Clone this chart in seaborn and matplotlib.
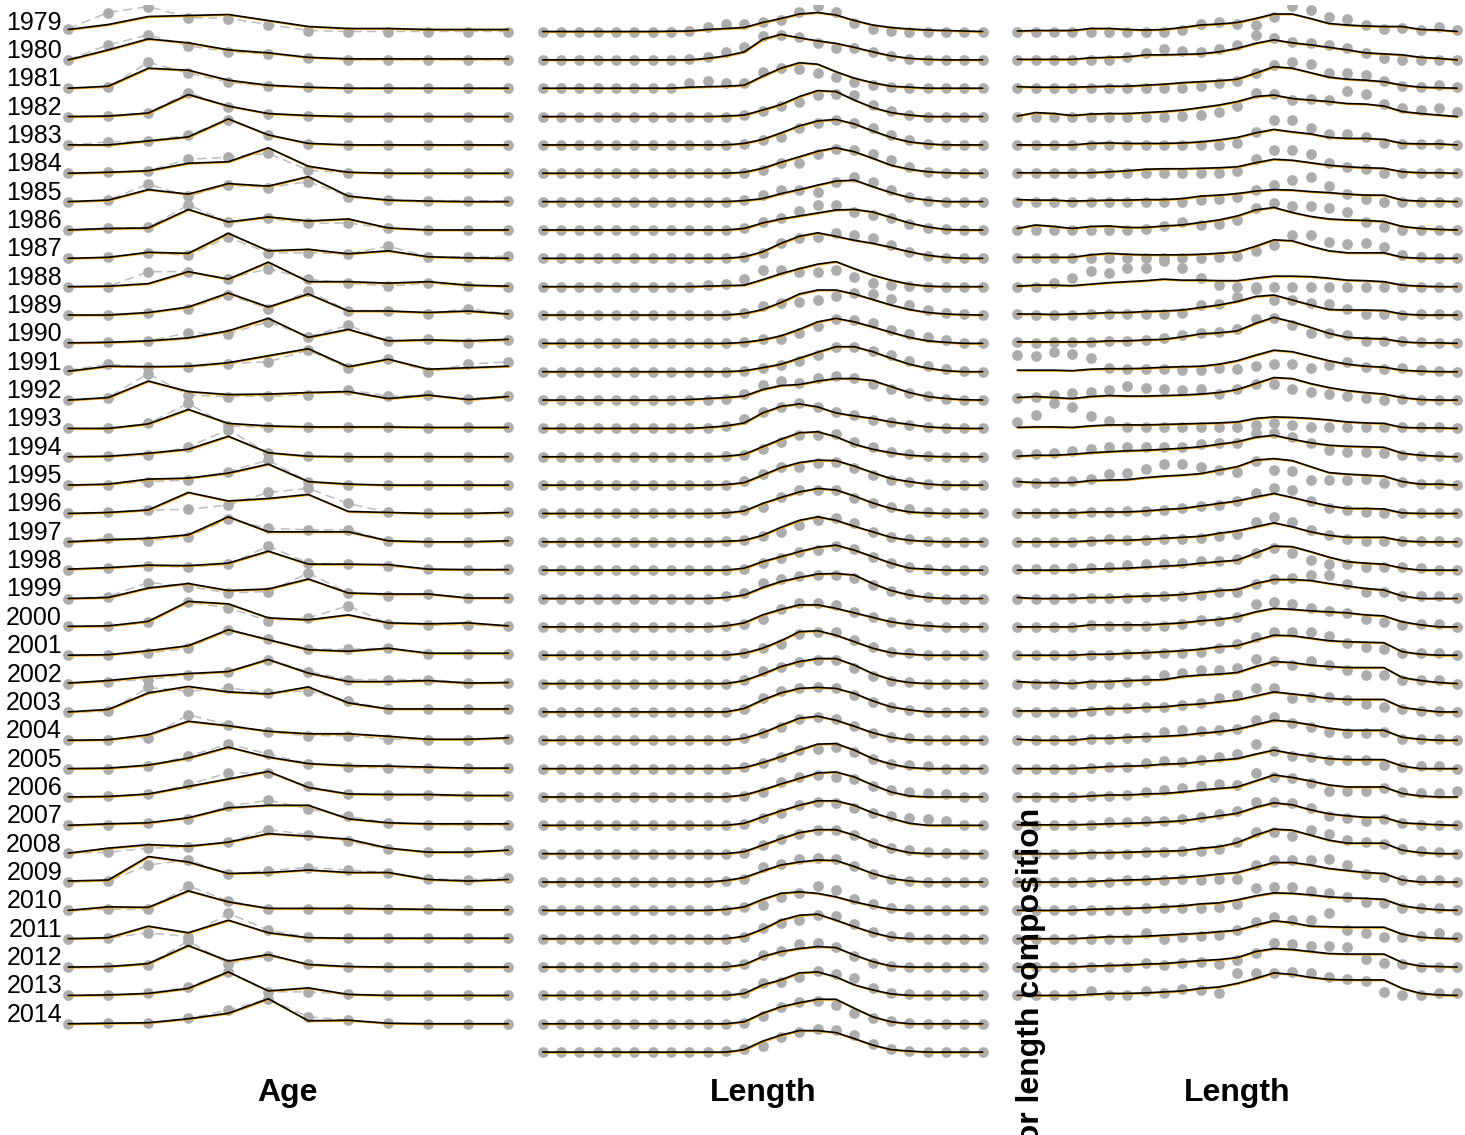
import numpy as np
import pandas as pd
import matplotlib
matplotlib.use("Agg")
import matplotlib.pyplot as plt
import matplotlib.transforms as mtransforms
import seaborn as sns

# ---------------- data (proportions, in percent) ----------------
AGE_YEARS = list(range(1979, 2015))
AGE_BINS = list(range(1, 13))
AGE_OBS = [
    [3, 19, 25, 14, 13, 7, 1, 0, 0, 0, 0, 0],
    [0, 15, 25, 14, 8, 6, 2, 0, 0, 0, 0, 0],
    [0, 1, 26, 15, 6, 2, 1, 0, 0, 0, 0, 0],
    [0, 0.5, 4, 24, 10, 3, 1, 0, 0, 0, 0, 0],
    [0, 3, 4, 10, 25, 10, 1, 0, 0, 0, 0, 0],
    [0, 1, 2.5, 14, 16, 20, 3, 0.5, 0, 0, 0, 0],
    [0, 1.5, 17.5, 5.5, 16.5, 14, 20, 5, 1.5, 1, 1, 0.5],
    [0, 2, 2.5, 25, 8, 11.5, 6.5, 7, 1.5, 0, 0, 0],
    [0, 1, 5.5, 3, 21, 5.5, 5.5, 4.5, 12, 1.5, 1.5, 2],
    [0, 0, 15, 15, 8, 18, 7.5, 3.5, 0.5, 3.5, 0.5, 0],
    [0, 0.5, 2.5, 6.5, 20, 6.5, 24, 4.5, 4.5, 1.5, 6.5, 1],
    [0, 1.5, 2.5, 10.5, 9.5, 21.5, 6.5, 18, 2.5, 4, 0.5, 3],
    [1.5, 7.5, 4.5, 5, 8, 10, 21.5, 3.5, 13, 0, 7.5, 10],
    [0, 2.5, 26.5, 5, 3.5, 4, 5, 10, 4, 5, 1.5, 4],
    [0, 0, 5, 25, 2.5, 1, 1, 1, 1, 0, 1, 1],
    [0, 0.5, 1.5, 10, 27, 3.5, 0.5, 0, 0, 0, 0, 0],
    [0, 0, 3.5, 5, 13.5, 25, 3.5, 0, 0, 0, 0, 0],
    [0, 1, 3.5, 4, 8.5, 21, 25, 10, 1, 0, 0, 1],
    [0, 4, 1, 5, 22.5, 13.5, 12, 12, 1, 0, 0, 1],
    [0.5, 2, 4, 3, 6, 24, 7, 6, 4, 1, 0.5, 1],
    [0, 2, 16, 12, 5.5, 7, 25.5, 5.5, 3, 4.5, 0.5, 0.5],
    [0.5, 0.5, 4.5, 24.5, 19, 6, 9, 21, 3, 2, 2, 0.5],
    [0, 0.5, 2, 7, 25.5, 16, 6, 6, 7, 1.5, 1, 1.5],
    [0, 2, 4, 9, 12, 24, 12, 4, 4, 4, 1, 1],
    [0, 0.5, 24.5, 20.5, 24, 19, 21, 11, 2.5, 2.5, 2.5, 2.5],
    [0, 0.5, 2.5, 25.5, 15.5, 8, 4.5, 4.5, 1, 0.5, 0.5, 1],
    [0, 0, 2.5, 12.5, 24.5, 14.5, 5, 1.5, 0.5, 0.5, 0.5, 0.5],
    [0, 0.5, 2.5, 12.5, 24, 24, 10.5, 3, 1.5, 1.5, 0.5, 0.5],
    [0, 0.5, 2.5, 6.5, 19, 25, 16.5, 9, 2.5, 0.5, 0.5, 0.5],
    [0.5, 1.5, 5.5, 6.5, 11.5, 24, 19, 12.5, 4.5, 1.5, 1.5, 3.5],
    [0, 1, 17, 22, 8, 11.5, 14.5, 12, 9.5, 3.5, 2, 4.5],
    [0, 1, 1, 24.5, 9.5, 1, 1, 1, 1, 1, 0.5, 0.5],
    [0, 0.5, 6, 2, 25.5, 8.5, 1.5, 0.5, 0.5, 0.5, 0.5, 0.5],
    [0, 0.5, 2.5, 26, 3.5, 11, 3.5, 0.5, 0, 0, 0, 0],
    [0, 0.5, 2, 8.5, 23.5, 3.5, 3.5, 1, 0, 0, 0, 0],
    [0, 1, 1, 5.5, 13.5, 25, 7, 3.5, 0.5, 0, 0, 0],
]
AGE_FIT = [
    [2, 7, 15, 16, 17, 11, 5, 3, 3, 2, 2, 2],
    [0, 10, 21, 17, 10, 7, 2.5, 1, 1, 1, 1, 1],
    [0, 2, 20, 18, 8, 3, 1, 0, 0, 0, 0, 0],
    [0, 0.5, 3.5, 22, 10.5, 3, 1, 0, 0, 0, 0, 0],
    [0, 0, 4, 8, 26, 10, 1.5, 0, 0, 0, 0, 0],
    [0, 1, 2.5, 10, 11.5, 25.5, 7, 1, 0, 0, 0, 0],
    [0, 1.5, 12, 7.5, 18, 15.5, 25, 5.5, 1.5, 0.5, 0, 0],
    [0, 1.5, 2, 20.5, 8, 13, 9, 11, 2, 0, 0, 0],
    [0, 1, 6, 5, 25, 7.5, 9, 4.5, 7.5, 1.5, 0.5, 0],
    [0, 0.5, 3, 15, 7.5, 24.5, 5, 5, 3.5, 5, 1.5, 0.5],
    [0, 0, 2.5, 8, 22, 8, 21, 4, 4, 2.5, 4, 1],
    [0.5, 1, 2.5, 5.5, 12.5, 25, 6, 14, 2.5, 3.5, 2.5, 4],
    [0.5, 5.5, 5, 5.5, 9, 16, 23, 5, 12.5, 2.5, 4, 5.5],
    [0, 2.5, 19, 8.5, 5.5, 6, 7.5, 8.5, 1.5, 5, 0.5, 3.5],
    [0, 0, 4.5, 19, 5, 2.5, 1.5, 1.5, 1.5, 1, 1, 1],
    [0, 0.5, 3.5, 7.5, 20.5, 4, 0.5, 0, 0, 0, 0, 0],
    [0, 1, 6, 7, 12, 21, 3.5, 1, 0, 0, 0, 0],
    [0, 1, 3.5, 21, 12.5, 15, 19, 2, 1, 0, 0, 1],
    [0, 2, 3.5, 7, 25, 10, 10, 10, 1, 0, 0, 1],
    [1, 2.5, 5, 4.5, 7, 19, 6, 6, 5.5, 1, 0.5, 0.5],
    [0, 1, 10.5, 15, 8, 9.5, 19.5, 5.5, 4.5, 4.5, 0.5, 0.5],
    [0.5, 1, 5.5, 25.5, 23, 9, 7, 12, 4, 3, 4, 1],
    [0, 0.5, 4.5, 9.5, 25.5, 15.5, 5.5, 4, 7, 2, 2, 2],
    [0.5, 3, 7, 10, 12, 24, 10.5, 2, 2, 3, 0.5, 1],
    [0, 2.5, 19, 25.5, 20, 18, 25, 9, 3, 3, 3, 3],
    [0, 0.5, 5.5, 19, 14.5, 9, 6.5, 6.5, 4, 1, 1, 2.5],
    [0, 0.5, 3.5, 10.5, 21.5, 11.5, 5, 3, 2.5, 1.5, 0.5, 0.5],
    [0, 0.5, 3, 10.5, 18, 25.5, 9.5, 3, 2.5, 2.5, 1.5, 1.5],
    [0, 1.5, 2.5, 7.5, 17.5, 20, 20, 6.5, 2.5, 1.5, 1.5, 1.5],
    [0.5, 5.5, 9, 7.5, 11.5, 20, 17.5, 14.5, 5.5, 1.5, 1.5, 3.5],
    [1, 2, 25.5, 20, 8.5, 9.5, 12, 9.5, 9.5, 2.5, 1, 2.5],
    [0, 3.5, 3, 19.5, 8.5, 2, 2, 2, 1.5, 1, 0.5, 0.5],
    [0, 1, 12.5, 6, 18.5, 6, 1, 0.5, 0.5, 0.5, 0.5, 0.5],
    [0, 0.5, 3.5, 21.5, 6, 12.5, 2.5, 0.5, 0, 0, 0, 0],
    [0, 0.5, 2, 7, 23.5, 4.5, 7.5, 1, 0, 0, 0, 0],
    [0, 0.5, 1, 5, 10.5, 25, 3, 3.5, 0.5, 0, 0, 0],
]

LEN_BINS = list(range(1, 26))
LEN1_YEARS = list(range(1979, 2016))
LEN1_OBS = [
    [0, 0, 0, 0, 0, 0, 0, 0, 0.5, 5, 7.5, 7.5, 10, 12, 20, 25.5, 20, 9, 3, 0.5, 0, 0, 0, 0, 0],
    [0, 0, 0, 0, 0, 0, 0, 0, 0.5, 2.5, 8, 13, 24, 25, 22.5, 17, 11.5, 11.5, 8, 4, 0.5, 0, 0, 0, 0],
    [0, 0, 0, 0, 0, 0, 0, 0, 5, 7.5, 5, 5.5, 16.5, 20, 19, 15.5, 11, 6.5, 3, 1, 0, 0, 0, 0, 0],
    [0, 0, 0, 0, 0, 0, 0, 0, 0, 0, 0, 1.5, 5.5, 10.5, 15, 21.5, 23, 21.5, 11.5, 6, 1.5, 0, 0, 0, 0],
    [0, 0, 0, 0, 0, 0, 0, 0, 0, 0, 0, 1, 5, 8, 16.5, 22, 25, 22, 16.5, 10, 5, 1, 0, 0, 0],
    [0, 0, 0, 0, 0, 0, 0, 0, 0, 0, 0, 0.5, 3, 10, 10, 19, 24, 23, 19, 13, 6.5, 1.5, 0, 0, 0],
    [0, 0, 0, 0, 0, 0, 0, 0, 0, 0, 0, 1.5, 6.5, 11.5, 11.5, 10, 20, 25, 20, 12, 5, 0.5, 0, 0, 0],
    [0, 0, 0, 0, 0, 0, 0, 0, 0, 0, 0, 1.5, 8, 11.5, 19, 25, 25, 18, 15, 11.5, 6, 1.5, 0.5, 0, 0],
    [0, 0, 0, 0, 0, 0, 0, 0, 0, 0, 0, 1.5, 5.5, 15, 20, 21.5, 25, 23, 20, 13.5, 6.5, 2, 0.5, 0, 0],
    [0, 0, 0, 0, 0, 0, 0, 0, 0, 1.5, 3, 8, 17, 17, 15, 15, 17, 10, 4, 1.5, 0.5, 0, 0, 0, 0],
    [0, 0, 0, 0, 0, 0, 0, 0, 0, 0, 0, 2.5, 9, 12.5, 13.5, 15.5, 19, 22, 21, 16.5, 10, 5.5, 2.5, 1, 0],
    [0, 0, 0, 0, 0, 0, 0, 0, 0, 0, 0, 1.5, 4, 4, 10, 17.5, 24, 23.5, 20, 13.5, 9.5, 6, 3.5, 0.5, 0],
    [0, 0, 0, 0, 0, 0, 0, 0, 0, 0, 0, 1, 3.5, 6.5, 11, 16.5, 25, 24.5, 20.5, 16.5, 11, 5.5, 2.5, 0.5, 0],
    [0, 0, 0, 0, 0, 0, 0, 0, 0.5, 0.5, 1.5, 6, 15, 19.5, 17.5, 22.5, 24, 22.5, 16.5, 11.5, 7.5, 4, 1.5, 0.5, 0],
    [0, 0, 0, 0, 0, 0, 0, 0, 0, 0.5, 2.5, 9, 16.5, 21.5, 25, 21.5, 16.5, 13.5, 8.5, 6.5, 3.5, 1.5, 0.5, 0, 0],
    [0, 0, 0, 0, 0, 0, 0, 0, 0, 0, 0.5, 1.5, 8, 15, 21.5, 21.5, 22.5, 15, 10, 5, 2.5, 1, 0, 0, 0],
    [0, 0, 0, 0, 0, 0, 0, 0, 0, 0, 0.5, 4.5, 11, 18.5, 18.5, 22, 23.5, 17, 10, 5.5, 3.5, 1.5, 0.5, 0, 0],
    [0, 0, 0, 0, 0, 0, 0, 0, 0, 0, 0.5, 3.5, 6.5, 16, 23.5, 23.5, 23.5, 15, 10, 6.5, 4, 1.5, 0.5, 0, 0],
    [0, 0, 0, 0, 0, 0, 0, 0, 0, 0, 0.5, 1.5, 5.5, 10, 16.5, 21.5, 23.5, 18.5, 10, 4.5, 2.5, 0.5, 0, 0, 0],
    [0, 0, 0, 0, 0, 0, 0, 0, 0, 0, 0, 1, 7, 12, 18.5, 20, 24, 21, 13.5, 7, 3, 1, 0, 0, 0],
    [0, 0, 0, 0, 0, 0, 0, 0, 0, 0, 2.5, 6, 16, 20, 22.5, 23.5, 23.5, 21, 13.5, 8, 4.5, 2, 0, 0, 0],
    [0, 0, 0, 0, 0, 0, 0, 0, 0, 0, 1, 3, 7.5, 17.5, 23.5, 24, 22, 15, 10, 5, 3, 1, 0, 0, 0],
    [0, 0, 0, 0, 0, 0, 0, 0, 0, 0, 0, 2, 7, 11, 21, 23.5, 23.5, 15, 8, 3.5, 2, 0, 0, 0, 0],
    [0, 0, 0, 0, 0, 0, 0, 0, 0, 0, 0, 4, 13, 17, 22, 23.5, 23.5, 16, 7.5, 3, 2, 0, 0, 0, 0],
    [0, 0, 0, 0, 0, 0, 0, 0, 0, 0, 0, 2.5, 13.5, 21, 23.5, 24.5, 23.5, 17, 10, 5, 2, 0, 0, 0, 0],
    [0, 0, 0, 0, 0, 0, 0, 0, 0, 0, 0, 2, 7, 13.5, 21, 23.5, 21, 14, 7, 3.5, 2, 0, 0, 0, 0],
    [0, 0, 0, 0, 0, 0, 0, 0, 0, 0, 0, 2, 6, 12, 18.5, 20, 22, 17, 10, 5, 3.5, 2.5, 0, 0, 0],
    [0, 0, 0, 0, 0, 0, 0, 0, 0, 0, 0, 1, 5, 15, 20, 22, 20, 17.5, 11, 7, 5, 4, 3, 0, 0],
    [0, 0, 0, 0, 0, 0, 0, 0, 0, 0, 0, 1, 7, 12, 20, 23.5, 22.5, 17, 12, 9, 7, 6, 4.5, 0, 0],
    [0, 0, 0, 0, 0, 0, 0, 0, 0, 0, 0, 1, 8.5, 15, 20, 23.5, 23.5, 18.5, 11, 6, 4, 2, 1, 0, 0],
    [0, 0, 0, 0, 0, 0, 0, 0, 0, 0, 1.5, 3.5, 15, 18.5, 23.5, 24.5, 23.5, 16, 8.5, 3.5, 1.5, 0, 0, 0, 0],
    [0, 0, 0, 0, 0, 0, 0, 0, 0, 0, 0.5, 3.5, 5.5, 13.5, 17.5, 24.5, 20, 11, 6.5, 2, 1, 0, 0, 0, 0],
    [0, 0, 0, 0, 0, 0, 0, 0, 0, 0, 0, 2, 11, 16, 18.5, 23.5, 22.5, 14.5, 7, 2.5, 1.5, 0, 0, 0, 0],
    [0, 0, 0, 0, 0, 0, 0, 0, 0, 0, 1, 3.5, 12, 16.5, 23.5, 24.5, 20.5, 11, 4.5, 1, 0, 0, 0, 0, 0],
    [0, 0, 0, 0, 0, 0, 0, 0, 0, 0, 0, 2, 12, 13.5, 18.5, 24.5, 21.5, 17, 7, 2.5, 1.5, 0, 0, 0, 0],
    [0, 0, 0, 0, 0, 0, 0, 0, 0, 0, 0, 1, 7.5, 17, 22, 23, 18.5, 11, 5.5, 3, 1, 0, 0, 0, 0],
    [0, 0, 0, 0, 0, 0, 0, 0, 0, 0, 1, 3.5, 6, 15.5, 20.5, 23.5, 22, 17, 8.5, 3.5, 1.5, 0, 0, 0, 0],
]
LEN1_FIT = [
    [0, 0, 0, 0, 0, 0, 0, 0.3, 0.5, 2, 3, 4, 9, 13, 17.5, 19, 16.5, 11, 6.5, 4, 2.5, 1.5, 1, 0.5, 0],
    [0, 0, 0, 0, 0, 0, 0, 0, 0, 1.5, 4, 8, 20.5, 25.5, 22, 19, 16.5, 12.5, 8, 4, 1.5, 0.5, 0, 0, 0],
    [0, 0, 0, 0, 0, 0, 0, 0, 1, 1.5, 2, 3, 12, 20, 25.5, 24, 16.5, 10, 5.5, 2, 1, 0, 0, 0, 0],
    [0, 0, 0, 0, 0, 0, 0, 0, 0, 0, 0.5, 1.5, 6.5, 12, 20, 26, 25, 16.5, 9, 4, 1.5, 0, 0, 0, 0],
    [0, 0, 0, 0, 0, 0, 0, 0, 0, 0, 0, 1.5, 5.5, 12, 19, 24, 25.5, 21, 14, 7.5, 3, 1, 0, 0, 0],
    [0, 0, 0, 0, 0, 0, 0, 0, 0, 0, 0, 1, 5, 11, 16.5, 22, 25.5, 21.5, 15, 8, 4, 1.5, 0.5, 0, 0],
    [0, 0, 0, 0, 0, 0, 0, 0, 0, 0, 0, 1, 3, 8, 12, 16.5, 20.5, 21.5, 15, 9, 4, 1.5, 0, 0, 0],
    [0, 0, 0, 0, 0, 0, 0, 0, 0, 0, 0, 1.5, 7, 11, 14, 17, 20, 20.5, 18, 12.5, 7, 3, 0.5, 0, 0],
    [0, 0, 0, 0, 0, 0, 0, 0, 0, 0, 0, 1.5, 6.5, 15, 22, 25.5, 22, 18, 15, 11, 6.5, 3, 1, 0, 0],
    [0, 0, 0, 0, 0, 0, 0, 0, 0, 0.5, 1, 1.5, 7, 13, 18, 22.5, 25, 18, 11.5, 6.5, 2.5, 0.5, 0, 0, 0],
    [0, 0, 0, 0, 0, 0, 0, 0, 0, 0, 0, 1.5, 5.5, 12.5, 21, 25, 25, 21, 15.5, 10, 5.5, 2.5, 1, 0.3, 0],
    [0, 0, 0, 0, 0, 0, 0, 0, 0, 0, 0, 1, 3.5, 7.5, 14, 21.5, 25, 21.5, 16.5, 11, 6, 2.5, 1, 0, 0],
    [0, 0, 0, 0, 0, 0, 0, 0, 0, 0, 0, 1, 4, 7.5, 13.5, 19.5, 25, 25, 20, 13.5, 7.5, 3.5, 1, 0, 0],
    [0, 0, 0, 0, 0, 0, 0, 0, 0.5, 1.5, 2.5, 4, 10.5, 14.5, 15.5, 19, 21.5, 21.5, 19.5, 13.5, 7.5, 3.5, 1.5, 0.3, 0],
    [0, 0, 0, 0, 0, 0, 0, 0, 0, 1, 2.5, 5.5, 15.5, 22, 24.5, 21.5, 15.5, 12.5, 10, 6.5, 4, 1.5, 0.5, 0, 0],
    [0, 0, 0, 0, 0, 0, 0, 0, 0, 0, 0.5, 2.5, 10, 17.5, 24, 25, 20, 12.5, 7.5, 4, 1.5, 0.5, 0, 0, 0],
    [0, 0, 0, 0, 0, 0, 0, 0, 0, 0, 0.5, 2.5, 10, 17.5, 22.5, 25, 24.5, 19, 12.5, 6.5, 3.5, 1, 0, 0, 0],
    [0, 0, 0, 0, 0, 0, 0, 0, 0, 0, 0.5, 2.5, 10, 16, 21.5, 25, 23.5, 17.5, 10.5, 5, 1.5, 0.5, 0, 0, 0],
    [0, 0, 0, 0, 0, 0, 0, 0, 0, 0, 0.5, 1.5, 6.5, 14.5, 21.5, 25, 21.5, 15.5, 10, 4.5, 1.5, 0.5, 0, 0, 0],
    [0, 0, 0, 0, 0, 0, 0, 0, 0, 0, 0, 2, 8.5, 13.5, 18.5, 23, 25, 20, 13.5, 7, 2, 1, 0, 0, 0],
    [0, 0, 0, 0, 0, 0, 0, 0, 0, 0, 1, 3.5, 11, 17, 21, 24.5, 25, 23.5, 15, 8, 3.5, 1, 0, 0, 0],
    [0, 0, 0, 0, 0, 0, 0, 0, 0, 0, 1, 4, 12, 17.5, 22, 22, 18.5, 14, 9.5, 5, 2.5, 1, 0, 0, 0],
    [0, 0, 0, 0, 0, 0, 0, 0, 0, 0, 0, 2, 7, 14.5, 23.5, 24.5, 20, 13.5, 7, 2.5, 1, 0, 0, 0, 0],
    [0, 0, 0, 0, 0, 0, 0, 0, 0, 0, 0, 3, 9.5, 17, 22, 25, 25, 18.5, 10, 4, 1, 0, 0, 0, 0],
    [0, 0, 0, 0, 0, 0, 0, 0, 0, 0, 0, 3.5, 12, 19, 23.5, 24.5, 23.5, 18.5, 11, 5, 2, 0, 0, 0, 0],
    [0, 0, 0, 0, 0, 0, 0, 0, 0, 0, 0, 2, 7.5, 15, 22, 24, 20, 14, 7.5, 3, 0.5, 0, 0, 0, 0],
    [0, 0, 0, 0, 0, 0, 0, 0, 0, 0, 0, 1, 6, 12, 18.5, 24.5, 25, 18.5, 10, 4.5, 1, 0, 0, 0, 0],
    [0, 0, 0, 0, 0, 0, 0, 0, 0, 0, 0, 2, 7, 13, 18.5, 24, 25, 20, 12, 5, 1, 0, 0, 0, 0],
    [0, 0, 0, 0, 0, 0, 0, 0, 0, 0, 0, 2, 8.5, 14.5, 20, 24.5, 24.5, 20, 12.5, 7, 2, 0, 0, 0, 0],
    [0, 0, 0, 0, 0, 0, 0, 0, 0, 0, 0, 2, 8.5, 15, 21, 24, 24, 18.5, 11, 5, 1, 0, 0, 0, 0],
    [0, 0, 0, 0, 0, 0, 0, 0, 0, 0, 1.5, 4.5, 11, 17, 20, 22, 21.5, 15.5, 8.5, 3.5, 1, 0, 0, 0, 0],
    [0, 0, 0, 0, 0, 0, 0, 0, 0, 0, 1, 3.5, 11, 17, 18.5, 17, 13.5, 8.5, 4.5, 1, 0, 0, 0, 0, 0],
    [0, 0, 0, 0, 0, 0, 0, 0, 0, 0, 0, 2.5, 9.5, 18.5, 23.5, 24.5, 18.5, 12, 6, 1.5, 0, 0, 0, 0, 0],
    [0, 0, 0, 0, 0, 0, 0, 0, 0, 0, 0, 2.5, 10.5, 15.5, 18.5, 20.5, 19.5, 12, 5.5, 1, 0, 0, 0, 0, 0],
    [0, 0, 0, 0, 0, 0, 0, 0, 0, 0, 0, 2, 10.5, 15.5, 22.5, 23.5, 18.5, 10.5, 5.5, 1.5, 0, 0, 0, 0, 0],
    [0, 0, 0, 0, 0, 0, 0, 0, 0, 0, 0, 2, 10.5, 17, 21, 24.5, 24.5, 15.5, 7, 2, 0, 0, 0, 0, 0],
    [0, 0, 0, 0, 0, 0, 0, 0, 0, 0, 0, 2.5, 11, 17, 21.5, 21.5, 19.5, 13.5, 7, 2.5, 1, 0, 0, 0, 0],
]

LEN2_YEARS = list(range(1979, 2014))
LEN2_OBS = [
    [0, 0, 0, 0, 0, 0, 0, 0, 0, 1.5, 7.5, 10, 8, 6.5, 15, 25.5, 21.5, 15, 13, 6.5, 3, 4, 2, 5, 2],
    [0, 0, 0, 0, 0, 0, 2.5, 6.5, 10.5, 9, 8, 10.5, 15, 25, 21.5, 18, 16.5, 15, 11.5, 6.5, 1.5, 0, 0, 0, 0],
    [0, 0, 0, 0, 0, 0, 0, 0, 0, 0, 2, 5.5, 7.5, 15.5, 23, 26.5, 24, 15.5, 15, 13, 7.5, 2, 1, 3, 1],
    [0, 0, 0, 0, 0, 0, 0, 0, 0, 0.5, 1.5, 5, 10.5, 24, 23, 16.5, 18, 17, 26, 23, 12.5, 9, 6.5, 9, 5],
    [0, 0, 0, 0, 0, 0, 0, 0, 0, 0, 0, 0, 1.5, 13, 25, 25, 16.5, 11, 11, 7.5, 2, 1, 1, 1, 0],
    [0, 0, 0, 0, 0, 0, 0, 0, 0, 0, 0, 0, 2.5, 14, 23, 23, 19, 10, 6, 4, 0.5, 0, 0, 0, 0],
    [0, 0, 0, 0, 0, 0, 0, 0, 0, 0, 1.5, 3, 5, 12, 16.5, 21.5, 25, 15.5, 8, 3, 0, 0, 0, 0, 0],
    [0, 0, 0, 0, 0, 0, 0, 0.5, 4, 7.5, 5, 6, 9.5, 21.5, 26.5, 24, 24, 21.5, 17.5, 7.5, 3, 0, 0, 0, 0],
    [0, 0, 0, 0, 0, 0, 0, 0, 0, 0, 0, 1, 2, 7.5, 13, 23, 23, 16.5, 14, 15.5, 11.5, 3, 1, 0, 0],
    [0, 0, 3.5, 8.5, 16, 13.5, 18.5, 18.5, 26, 18.5, 8.5, 1.5, 0, 0, 0, 0, 0, 0, 0, 0, 0, 0, 0, 0, 0],
    [1, 0, 0, 0, 1, 1, 1, 1, 1.5, 2.5, 10, 11.5, 18.5, 26.5, 15, 15, 12.5, 11.5, 6.5, 1.5, 1, 0, 1, 1, 0],
    [1.5, 0.5, 1.5, 1.5, 1.5, 2.5, 2.5, 3.5, 5, 8.5, 10.5, 11.5, 14, 24, 25, 18.5, 10.5, 10, 8.5, 2.5, 2.5, 2.5, 1.5, 0.5, 0],
    [16.5, 15.5, 20, 17.5, 13.5, 3.5, 2.5, 2.5, 2.5, 1.5, 1.5, 3.5, 2.5, 5.5, 7.5, 7.5, 3.5, 6.5, 10, 4.5, 2.5, 3.5, 1.5, 1, 0],
    [2.5, 3.5, 5, 7.5, 8.5, 10, 14, 12.5, 11.5, 10.5, 11.5, 6.5, 11.5, 16.5, 16.5, 11.5, 8.5, 6.5, 4, 2.5, 0, 1.5, 0.5, 0.5, 0],
    [6.5, 13.5, 25, 21, 12.5, 7.5, 1.5, 1.5, 1.5, 1.5, 1.5, 1.5, 1.5, 3.5, 5, 3.5, 1.5, 1, 1.5, 1.5, 1.5, 1, 1, 1.5, 0],
    [2.5, 2.5, 3.5, 6, 7.5, 9.5, 10, 10, 10, 10, 12.5, 13.5, 14, 24, 23.5, 20, 13.5, 6.5, 5, 5, 3.5, 1.5, 0.5, 0.5, 0],
    [3.5, 2.5, 3.5, 4.5, 6.5, 11, 12.5, 16.5, 21, 21, 18.5, 15, 13.5, 24, 15, 14.5, 5.5, 5.5, 5.5, 6.5, 2.5, 3.5, 1.5, 1.5, 0],
    [0.5, 0.5, 0.5, 0.5, 1.5, 1.5, 2.5, 2.5, 3.5, 5, 7.5, 8.5, 12.5, 20, 25, 23.5, 12.5, 5, 3.5, 1.5, 0.5, 0.5, 0.5, 0.5, 0],
    [0, 0, 0, 0, 1, 2.5, 1.5, 1.5, 2.5, 2.5, 3.5, 5.5, 7.5, 20, 25, 20, 11.5, 6.5, 2.5, 1, 1, 1, 1, 1, 0],
    [1, 1, 1, 2, 2, 3, 5, 6, 6, 7.5, 9.5, 9.5, 11.5, 17, 22, 17.5, 10, 6, 6, 3.5, 3.5, 3.5, 2, 0, 0],
    [0, 0, 0, 1, 1, 1, 1, 2, 2.5, 2.5, 3.5, 7, 7, 15, 20, 21, 23.5, 23.5, 15, 7, 7, 2.5, 2.5, 2.5, 1],
    [0, 0, 0, 0, 2, 1, 1, 1, 1, 3, 7, 6, 9.5, 23, 25, 23, 18.5, 16, 14, 7.5, 5, 2, 3, 3, 0],
    [0, 0, 0, 0, 0, 0, 1, 1, 2, 2.5, 3.5, 7, 11, 18.5, 23.5, 23.5, 23.5, 19, 12, 8.5, 6, 2.5, 2, 2, 0],
    [0, 0, 0, 0, 0, 0, 2, 4, 8.5, 11, 13.5, 14, 16, 25, 23, 18.5, 23, 18.5, 13.5, 8.5, 8.5, 4, 4, 4, 0],
    [0, 0, 0, 0, 1, 2, 3.5, 5, 5, 7, 8.5, 13.5, 17, 23.5, 23.5, 13.5, 15, 15, 12, 8, 4.5, 2.5, 1, 1, 0],
    [0, 0, 0, 0, 1, 1, 2, 3.5, 8.5, 10, 9.5, 10, 11, 20, 23.5, 17.5, 13.5, 8.5, 7.5, 7.5, 8.5, 1, 1, 1, 0],
    [0, 0, 0, 0, 1, 2, 2, 6, 8, 7, 9, 12, 15, 24.5, 18, 12.5, 12, 8.5, 8.5, 8.5, 3.5, 2, 2.5, 2.5, 0],
    [0, 0, 0, 0, 1, 1, 2, 5, 7, 8.5, 11, 12.5, 12, 23.5, 20, 18.5, 14, 6, 6, 6, 8.5, 5, 4, 3.5, 6],
    [0, 0, 0, 0, 0, 3.5, 3.5, 4.5, 4.5, 6, 8, 11, 14.5, 23.5, 23.5, 22, 17, 9.5, 7, 4.5, 6, 2.5, 0, 0, 0],
    [0, 0, 0, 0, 0, 0, 0, 2, 2, 3, 3, 5, 12, 22, 22, 17.5, 23.5, 20, 13.5, 12, 10, 4.5, 3, 2, 0],
    [0, 0, 0, 0, 0, 0, 2, 2, 2, 3.5, 2.5, 3.5, 3.5, 17, 22, 22.5, 22.5, 23.5, 17, 8.5, 5.5, 2, 2, 2, 0],
    [0, 0, 0, 0, 0, 0, 0, 2, 2, 2, 2, 3.5, 6.5, 22, 23.5, 23, 19.5, 17.5, 13, 8.5, 7, 2, 2, 2, 0],
    [0, 0, 0, 0, 0, 0, 0, 5.5, 0, 2, 2.5, 3.5, 8.5, 17, 22, 18.5, 18.5, 25.5, 8.5, 5.5, 2, 1.5, 2.5, 5.5, 2],
    [0, 0, 0, 0, 0, 0, 0, 4, 2, 4, 5.5, 3.5, 7.5, 14.5, 24.5, 23, 21, 21, 20.5, 8.5, 4, 3.5, 0, 0, 0],
    [0, 0, 0, 0, 4.5, 0, 0, 4.5, 2, 6, 5.5, 2.5, 22, 22, 22.5, 23.5, 22, 18, 16, 14.5, 3.5, 0, 0, 2, 2],
]
LEN2_FIT = [
    [0.5, 1, 1, 1, 3, 3, 2, 1.5, 2, 4, 6.5, 7.5, 9, 13, 17.5, 17.5, 13, 8, 6.5, 5.5, 5, 5, 2, 1.5, 0],
    [0.5, 0.5, 0.5, 0.5, 2, 2.5, 3, 5, 5, 5.5, 6, 8, 11.5, 16.5, 20, 17, 15, 12.5, 10, 7, 6, 5, 2.5, 1.5, 0],
    [1.5, 1, 1, 1, 1.5, 2, 2, 3, 4, 5.5, 6.5, 7.5, 9, 15, 21.5, 20, 15.5, 11, 9, 8, 6.5, 3, 1, 0.5, 0],
    [0.5, 4, 3, 1, 2.5, 3, 3, 4, 5, 6.5, 9, 11.5, 15, 20, 21.5, 18, 16.5, 15, 13, 12.5, 10.5, 5, 3, 1.5, 0],
    [0, 0, 0, 0, 1.5, 2, 1.5, 1.5, 1.5, 2, 3, 5, 7.5, 12, 15.5, 13, 11, 7.5, 6.5, 6.5, 5.5, 1.5, 1, 1, 0],
    [0.5, 0.5, 0.5, 0.5, 0.5, 1.5, 2.5, 4, 4.5, 4.5, 5, 5.5, 6.5, 10.5, 14, 13, 10.5, 8, 6.5, 5.5, 5, 1.5, 0.5, 0.5, 0],
    [2, 1.5, 1.5, 0.5, 1, 1.5, 1.5, 2, 2, 3, 5.5, 6.5, 8, 10.5, 12, 11.5, 10, 9, 7.5, 6.5, 6.5, 1.5, 0.5, 0.5, 0],
    [1.5, 5, 3.5, 1.5, 3.5, 4, 2.5, 2.5, 4, 5, 7.5, 10, 14, 20, 22.5, 17.5, 13.5, 11, 10, 9.5, 8.5, 3.5, 1.5, 0.5, 0],
    [1, 1, 1, 1, 3.5, 5, 4, 3.5, 3.5, 3.5, 4, 5, 6.5, 12, 18.5, 17.5, 12, 7.5, 5.5, 5.5, 5.5, 1, 0, 0, 0],
    [0.5, 1.5, 1.5, 1, 2.5, 4, 5, 6, 7.5, 6.5, 6.5, 6, 6, 8.5, 10.5, 10.5, 10, 8.5, 6.5, 6, 5, 1.5, 0.5, 0, 0],
    [1, 1, 0.5, 1, 1.5, 2.5, 2.5, 3.5, 4, 5, 7.5, 10, 13.5, 18.5, 20, 15, 10, 5.5, 5, 5, 4.5, 1, 0, 0, 0],
    [1.5, 1.5, 1.5, 1.5, 1.5, 2.5, 2.5, 3.5, 4, 6.5, 9.5, 10.5, 12.5, 20, 26, 21.5, 16, 10, 6, 5, 4.5, 1.5, 0.5, 0.5, 0],
    [1.5, 1.5, 1.5, 1, 2.5, 3, 3, 3.5, 4.5, 5, 5.5, 7.5, 11, 16.5, 21.5, 20, 15.5, 11, 7.5, 5.5, 4.5, 1.5, 0.5, 0, 0],
    [2.5, 3.5, 2.5, 1.5, 3.5, 4.5, 4, 4, 4.5, 5, 6, 7.5, 10.5, 16.5, 22.5, 21.5, 16.5, 12.5, 9.5, 7.5, 6, 2.5, 0.5, 0, 0],
    [1, 1.5, 1.5, 1, 2.5, 3.5, 3.5, 3.5, 4, 4.5, 5, 5.5, 6.5, 10, 11.5, 11, 10, 8.5, 6.5, 5.5, 5, 1, 0.5, 0.5, 0],
    [0.5, 1.5, 1.5, 2.5, 4, 5, 6, 6.5, 7.5, 8.5, 10, 12.5, 15, 19.5, 21.5, 17.5, 14, 11.5, 10.5, 10, 9.5, 3.5, 1.5, 0.5, 0],
    [3.5, 2.5, 2.5, 2.5, 4.5, 5, 5.5, 7.5, 9, 10, 11.5, 15, 18.5, 25, 26.5, 24.5, 18.5, 12.5, 11, 10, 9, 3.5, 1, 1, 0],
    [0.5, 0.5, 0.5, 0.5, 1.5, 1.5, 1.5, 2.5, 4, 5, 7.5, 10, 12.5, 16.5, 20, 16, 11.5, 7.5, 5, 5, 4.5, 0.5, 0, 0, 0],
    [0, 0, 0, 0, 1, 1.5, 1.5, 2.5, 3.5, 4.5, 5.5, 8.5, 11, 15, 19, 15, 10, 6.5, 4.5, 4.5, 4.5, 1, 0, 0, 0],
    [0, 0, 0, 0, 1, 1.5, 2, 3, 4, 5, 7, 8.5, 10, 17, 24, 23.5, 18.5, 13, 8.5, 7, 6, 2, 0, 0, 0],
    [1, 0, 0, 0, 1, 1, 2, 2.5, 3, 4, 6, 8, 9, 15, 19, 19, 18, 15, 12.5, 10, 8.5, 2.5, 0, 0, 0],
    [0, 0, 0, 0, 2, 2, 2, 2, 3, 4, 6, 7.5, 10, 15, 18.5, 17.5, 16, 15, 14, 12, 11, 5, 2, 0, 0],
    [0, 0, 0, 0, 1, 1, 2, 2.5, 3.5, 4.5, 6, 8.5, 9.5, 15, 20, 19.5, 17, 14.5, 13.5, 13, 12.5, 3.5, 1, 0, 0],
    [2, 1, 1, 0, 2, 2, 3, 3.5, 4, 7, 8.5, 9.5, 11, 17, 22, 21, 18.5, 17, 16, 16, 16, 6, 3, 1, 0],
    [1, 1, 1, 1, 2.5, 3.5, 3.5, 4.5, 5, 7, 8, 10, 12, 16, 20, 18, 16, 13.5, 12.5, 12.5, 12.5, 4.5, 2, 0, 0],
    [1, 0, 0, 0, 2, 2, 3, 3.5, 4, 5, 7, 8.5, 11, 15.5, 20, 18.5, 15.5, 12, 10, 10, 10, 3, 1, 0, 0],
    [0, 0, 0, 0, 1, 2, 2.5, 3, 4.5, 5, 7, 8.5, 10, 14.5, 18.5, 15, 12.5, 10, 9, 9, 9, 2.5, 0, 0, 0],
    [0, 0, 0, 0, 1, 2, 2, 3, 3.5, 5, 7, 8.5, 10, 16, 22, 19.5, 16, 12, 10, 10, 10, 3.5, 1, 0, 0],
    [0.5, 0.5, 0.5, 0.5, 1, 1.5, 2, 2.5, 3.5, 4.5, 7, 9.5, 12, 18, 22.5, 20.5, 15.5, 11.5, 9.5, 8, 8, 2.5, 1.5, 0.5, 0],
    [0, 0, 0, 0, 1, 1, 1.5, 2, 2.5, 3, 5.5, 7, 11, 18.5, 24.5, 23.5, 18.5, 13.5, 10.5, 10.5, 10.5, 3.5, 1, 0, 0],
    [0, 0, 0, 0, 0.5, 1.5, 2, 2.5, 3.5, 4.5, 6, 8, 9.5, 14.5, 19.5, 19.5, 17, 13.5, 11.5, 9.5, 8.5, 2, 0, 0, 0],
    [0, 0, 0, 0, 1, 1.5, 2, 2.5, 3.5, 4.5, 6.5, 7.5, 10.5, 14.5, 17.5, 17, 15.5, 13.5, 12.5, 12, 11, 4.5, 2, 0.5, 0],
    [0, 0, 0, 0, 1, 2, 2, 2.5, 3.5, 4.5, 5.5, 7, 8.5, 13.5, 18, 16, 12.5, 12, 11.5, 11.5, 11.5, 4.5, 1.5, 0.5, 0],
    [0, 0, 0, 0, 1, 1.5, 2, 3, 3.5, 5, 6.5, 7.5, 9.5, 15.5, 18.5, 17.5, 15.5, 13.5, 13, 13, 13, 4.5, 1, 0.5, 0],
    [0, 0, 0, 0, 1, 2, 2, 2.5, 3.5, 4.5, 7, 8.5, 12, 17, 22.5, 21, 18, 16, 15.5, 15.5, 15.5, 7, 2, 0.5, 0],
]

# ---------------- layout (pixels) ----------------
W, H = 1465, 1135
ROW_TOP = 31.5      # baseline of first row, px from top
ROW_STEP = 28.35    # vertical spacing between rows, px
PX_PER_PCT = 1.0    # vertical pixels per percentage point
AX_TOP, AX_BOT = 5, 1070

DOT = "#ADADAD"
DASH = "#BEBEBE"
ORANGE = "#FFA500"

sns.set_theme(style="white")
plt.rcParams["font.family"] = ["Liberation Sans", "DejaVu Sans"]
plt.rcParams["text.color"] = "black"

fig = plt.figure(figsize=(W / 100, H / 100), dpi=100)


def long_frame(years, bins, obs, fit):
    recs = []
    for i, yr in enumerate(years):
        base = -(ROW_TOP + ROW_STEP * i)
        for j, b in enumerate(bins):
            recs.append({"year": yr, "bin": b,
                         "obs": base + obs[i][j] * PX_PER_PCT,
                         "fit": base + fit[i][j] * PX_PER_PCT})
    return pd.DataFrame(recs)


def make_axes(left_px, right_px, first_px, step_px):
    ax = fig.add_axes([left_px / W, 1 - AX_BOT / H,
                       (right_px - left_px) / W, (AX_BOT - AX_TOP) / H])
    ax.set_xlim(1 + (left_px - first_px) / step_px, 1 + (right_px - first_px) / step_px)
    ax.set_ylim(-AX_BOT, -AX_TOP)
    ax.axis("off")
    return ax


def draw_panel(ax, df, dashed):
    if dashed:
        sns.lineplot(data=df, x="bin", y="obs", units="year", estimator=None,
                     color=DASH, linewidth=1.1, linestyle=(0, (6, 3.5)),
                     legend=False, ax=ax, zorder=1)
    sns.scatterplot(data=df, x="bin", y="obs", color=DOT, s=60, linewidth=0,
                    legend=False, ax=ax, zorder=2)
    n0 = len(ax.lines)
    sns.lineplot(data=df, x="bin", y="fit", units="year", estimator=None,
                 color=ORANGE, linewidth=1.2, legend=False, ax=ax, zorder=3)
    shift = mtransforms.Affine2D().translate(0.7, -0.7)
    for ln in ax.lines[n0:]:
        ln.set_transform(ax.transData + shift)
    sns.lineplot(data=df, x="bin", y="fit", units="year", estimator=None,
                 color="black", linewidth=1.2, legend=False, ax=ax, zorder=4)
    ax.set_xlabel("")
    ax.set_ylabel("")


ax1 = make_axes(55, 522, 68.3, 40.0)
draw_panel(ax1, long_frame(AGE_YEARS, AGE_BINS, AGE_OBS, AGE_FIT), True)

ax2 = make_axes(528, 997, 542.7, 18.33)
draw_panel(ax2, long_frame(LEN1_YEARS, LEN_BINS, LEN1_OBS, LEN1_FIT), False)

ax3 = make_axes(1003, 1465, 1017.3, 18.33)
draw_panel(ax3, long_frame(LEN2_YEARS, LEN_BINS, LEN2_OBS, LEN2_FIT), False)

# year labels
for i, yr in enumerate(AGE_YEARS):
    fig.text(62 / W, 1 - (ROW_TOP + ROW_STEP * i - 2) / H, str(yr),
             ha="right", va="baseline", fontsize=18, color="black")

# axis titles
for xc, label in [(287.8, "Age"), (762.7, "Length"), (1237.3, "Length")]:
    fig.text(xc / W, 1 - 1101.5 / H, label, ha="center", va="baseline",
             fontsize=23, fontweight="bold", color="black")

fig.text(1031 / W, 1 - 808 / H, "Proportion for length composition",
         rotation=90, ha="center", va="top", fontsize=23, fontweight="bold",
         color="black", zorder=10)

fig.savefig("out.png", dpi=100, facecolor="white")
